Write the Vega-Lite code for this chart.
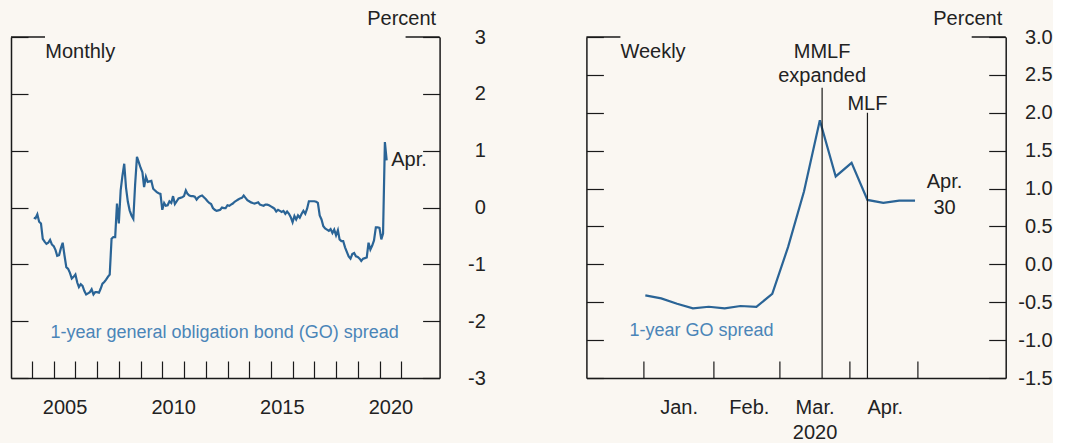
{
  "$schema": "https://vega.github.io/schema/vega-lite/v6.json",
  "background": "#faf7f2",
  "padding": {"left": 10, "top": 8, "right": 0, "bottom": 0},
  "spacing": 146.4,
  "bounds": "flush",
  "config": {
    "view": {"stroke": null},
    "font": "Liberation Sans",
    "axis": {"grid": false, "labelFont": "Liberation Sans", "labelFontSize": 20, "labelColor": "#222222", "domainColor": "#1a1a1a", "tickColor": "#1a1a1a", "domainWidth": 1.5, "tickWidth": 1.2, "titleFont": "Liberation Sans", "titleFontSize": 20, "titleFontWeight": "normal", "titleColor": "#222222", "labelOverlap": false, "labelFlush": false, "labelBound": false}
  },
  "datasets": {
    "monthly": [
      {"d":"2004-01-31","v":-0.18},{"d":"2004-02-29","v":-0.19},{"d":"2004-03-31","v":-0.12},{"d":"2004-04-30","v":-0.25},{"d":"2004-05-31","v":-0.28},{"d":"2004-06-30","v":-0.55},{"d":"2004-07-31","v":-0.60},{"d":"2004-08-31","v":-0.64},{"d":"2004-09-30","v":-0.62},{"d":"2004-10-31","v":-0.57},{"d":"2004-11-30","v":-0.65},{"d":"2004-12-31","v":-0.68},
      {"d":"2005-01-31","v":-0.75},{"d":"2005-02-28","v":-0.85},{"d":"2005-03-31","v":-0.84},{"d":"2005-04-30","v":-0.72},{"d":"2005-05-31","v":-0.62},{"d":"2005-06-30","v":-0.84},{"d":"2005-07-31","v":-1.05},{"d":"2005-08-31","v":-1.08},{"d":"2005-09-30","v":-1.15},{"d":"2005-10-31","v":-1.25},{"d":"2005-11-30","v":-1.22},{"d":"2005-12-31","v":-1.18},
      {"d":"2006-01-31","v":-1.32},{"d":"2006-02-28","v":-1.40},{"d":"2006-03-31","v":-1.35},{"d":"2006-04-30","v":-1.38},{"d":"2006-05-31","v":-1.47},{"d":"2006-06-30","v":-1.53},{"d":"2006-07-31","v":-1.51},{"d":"2006-08-31","v":-1.49},{"d":"2006-09-30","v":-1.44},{"d":"2006-10-31","v":-1.53},{"d":"2006-11-30","v":-1.49},{"d":"2006-12-31","v":-1.49},
      {"d":"2007-01-31","v":-1.50},{"d":"2007-02-28","v":-1.43},{"d":"2007-03-31","v":-1.34},{"d":"2007-04-30","v":-1.31},{"d":"2007-05-31","v":-1.27},{"d":"2007-06-30","v":-1.22},{"d":"2007-07-31","v":-1.18},{"d":"2007-08-31","v":-0.55},{"d":"2007-09-30","v":-0.52},{"d":"2007-10-31","v":-0.52},{"d":"2007-11-30","v":0.07},{"d":"2007-12-31","v":-0.28},
      {"d":"2008-01-31","v":0.30},{"d":"2008-02-29","v":0.55},{"d":"2008-03-31","v":0.77},{"d":"2008-04-30","v":0.35},{"d":"2008-05-31","v":0.10},{"d":"2008-06-30","v":-0.05},{"d":"2008-07-31","v":-0.14},{"d":"2008-08-31","v":-0.20},{"d":"2008-09-30","v":0.40},{"d":"2008-10-31","v":0.89},{"d":"2008-11-30","v":0.80},{"d":"2008-12-31","v":0.70},
      {"d":"2009-01-31","v":0.62},{"d":"2009-02-28","v":0.36},{"d":"2009-03-31","v":0.54},{"d":"2009-04-30","v":0.45},{"d":"2009-05-31","v":0.46},{"d":"2009-06-30","v":0.47},{"d":"2009-07-31","v":0.33},{"d":"2009-08-31","v":0.30},{"d":"2009-09-30","v":0.27},{"d":"2009-10-31","v":0.25},{"d":"2009-11-30","v":0.24},{"d":"2009-12-31","v":-0.04},
      {"d":"2010-01-31","v":0.08},{"d":"2010-02-28","v":0.03},{"d":"2010-03-31","v":0.04},{"d":"2010-04-30","v":0.11},{"d":"2010-05-31","v":0.08},{"d":"2010-06-30","v":0.20},{"d":"2010-07-31","v":0.06},{"d":"2010-08-31","v":0.11},{"d":"2010-09-30","v":0.16},{"d":"2010-10-31","v":0.17},{"d":"2010-11-30","v":0.18},{"d":"2010-12-31","v":0.20},
      {"d":"2011-01-31","v":0.30},{"d":"2011-02-28","v":0.24},{"d":"2011-03-31","v":0.21},{"d":"2011-04-30","v":0.20},{"d":"2011-05-31","v":0.20},{"d":"2011-06-30","v":0.19},{"d":"2011-07-31","v":0.14},{"d":"2011-08-31","v":0.18},{"d":"2011-09-30","v":0.20},{"d":"2011-10-31","v":0.21},{"d":"2011-11-30","v":0.18},{"d":"2011-12-31","v":0.15},
      {"d":"2012-01-31","v":0.11},{"d":"2012-02-29","v":0.08},{"d":"2012-03-31","v":0.06},{"d":"2012-04-30","v":-0.01},{"d":"2012-05-31","v":-0.04},{"d":"2012-06-30","v":-0.06},{"d":"2012-07-31","v":-0.05},{"d":"2012-08-31","v":-0.04},{"d":"2012-09-30","v":0.00},{"d":"2012-10-31","v":-0.01},{"d":"2012-11-30","v":-0.01},{"d":"2012-12-31","v":0.04},
      {"d":"2013-01-31","v":0.03},{"d":"2013-02-28","v":0.05},{"d":"2013-03-31","v":0.07},{"d":"2013-04-30","v":0.10},{"d":"2013-05-31","v":0.12},{"d":"2013-06-30","v":0.14},{"d":"2013-07-31","v":0.16},{"d":"2013-08-31","v":0.17},{"d":"2013-09-30","v":0.21},{"d":"2013-10-31","v":0.17},{"d":"2013-11-30","v":0.13},{"d":"2013-12-31","v":0.11},
      {"d":"2014-01-31","v":0.09},{"d":"2014-02-28","v":0.08},{"d":"2014-03-31","v":0.07},{"d":"2014-04-30","v":0.08},{"d":"2014-05-31","v":0.09},{"d":"2014-06-30","v":0.05},{"d":"2014-07-31","v":0.04},{"d":"2014-08-31","v":0.03},{"d":"2014-09-30","v":0.05},{"d":"2014-10-31","v":0.05},{"d":"2014-11-30","v":0.04},{"d":"2014-12-31","v":0.02},
      {"d":"2015-01-31","v":0.00},{"d":"2015-02-28","v":-0.02},{"d":"2015-03-31","v":-0.07},{"d":"2015-04-30","v":-0.04},{"d":"2015-05-31","v":-0.06},{"d":"2015-06-30","v":-0.08},{"d":"2015-07-31","v":-0.06},{"d":"2015-08-31","v":-0.11},{"d":"2015-09-30","v":-0.07},{"d":"2015-10-31","v":-0.11},{"d":"2015-11-30","v":-0.17},{"d":"2015-12-31","v":-0.26},
      {"d":"2016-01-31","v":-0.15},{"d":"2016-02-29","v":-0.21},{"d":"2016-03-31","v":-0.14},{"d":"2016-04-30","v":-0.18},{"d":"2016-05-31","v":-0.11},{"d":"2016-06-30","v":-0.06},{"d":"2016-07-31","v":-0.11},{"d":"2016-08-31","v":-0.02},{"d":"2016-09-30","v":0.11},{"d":"2016-10-31","v":0.11},{"d":"2016-11-30","v":0.11},{"d":"2016-12-31","v":0.11},
      {"d":"2017-01-31","v":0.10},{"d":"2017-02-28","v":0.08},{"d":"2017-03-31","v":-0.14},{"d":"2017-04-30","v":-0.21},{"d":"2017-05-31","v":-0.33},{"d":"2017-06-30","v":-0.37},{"d":"2017-07-31","v":-0.39},{"d":"2017-08-31","v":-0.41},{"d":"2017-09-30","v":-0.38},{"d":"2017-10-31","v":-0.45},{"d":"2017-11-30","v":-0.39},{"d":"2017-12-31","v":-0.49},
      {"d":"2018-01-31","v":-0.40},{"d":"2018-02-28","v":-0.56},{"d":"2018-03-31","v":-0.59},{"d":"2018-04-30","v":-0.59},{"d":"2018-05-31","v":-0.70},{"d":"2018-06-30","v":-0.78},{"d":"2018-07-31","v":-0.86},{"d":"2018-08-31","v":-0.90},{"d":"2018-09-30","v":-0.82},{"d":"2018-10-31","v":-0.80},{"d":"2018-11-30","v":-0.86},{"d":"2018-12-31","v":-0.87},
      {"d":"2019-01-31","v":-0.90},{"d":"2019-02-28","v":-0.94},{"d":"2019-03-31","v":-0.90},{"d":"2019-04-30","v":-0.89},{"d":"2019-05-31","v":-0.88},{"d":"2019-06-30","v":-0.62},{"d":"2019-07-31","v":-0.74},{"d":"2019-08-31","v":-0.67},{"d":"2019-09-30","v":-0.58},{"d":"2019-10-31","v":-0.35},{"d":"2019-11-30","v":-0.35},{"d":"2019-12-31","v":-0.36},
      {"d":"2020-01-31","v":-0.56},{"d":"2020-02-29","v":-0.46},{"d":"2020-03-31","v":1.15},{"d":"2020-04-30","v":0.83}
    ],
    "weekly": [
      {"d":"2020-01-02","v":-0.41},{"d":"2020-01-09","v":-0.45},{"d":"2020-01-16","v":-0.52},{"d":"2020-01-23","v":-0.58},{"d":"2020-01-30","v":-0.56},
      {"d":"2020-02-06","v":-0.58},{"d":"2020-02-13","v":-0.55},{"d":"2020-02-20","v":-0.56},{"d":"2020-02-27","v":-0.39},
      {"d":"2020-03-05","v":0.23},{"d":"2020-03-12","v":0.96},{"d":"2020-03-19","v":1.90},{"d":"2020-03-26","v":1.16},
      {"d":"2020-04-02","v":1.34},{"d":"2020-04-09","v":0.85},{"d":"2020-04-16","v":0.81},{"d":"2020-04-23","v":0.84},{"d":"2020-04-30","v":0.84}
    ]
  },
  "hconcat": [
    {
      "width": 428.6,
      "height": 341,
      "resolve": {"axis": {"x": "independent", "y": "independent"}},
      "layer": [
        {
          "data": {"name": "monthly"},
          "mark": {"type": "line", "color": "#2a6496", "strokeWidth": 2.2},
          "encoding": {
            "x": {"field": "d", "type": "temporal", "title": null,
              "scale": {"type": "utc", "domain": [{"year": 2003, "month": 1, "date": 13, "utc": true}, {"year": 2022, "month": 10, "date": 7, "utc": true}]},
              "axis": {"orient": "bottom", "domain": true, "ticks": true, "tickSize": -17, "labels": false,
                "values": [
                  {"year": 2004, "month": 1, "date": 1, "utc": true},{"year": 2005, "month": 1, "date": 1, "utc": true},{"year": 2006, "month": 1, "date": 1, "utc": true},{"year": 2007, "month": 1, "date": 1, "utc": true},{"year": 2008, "month": 1, "date": 1, "utc": true},{"year": 2009, "month": 1, "date": 1, "utc": true},{"year": 2010, "month": 1, "date": 1, "utc": true},{"year": 2011, "month": 1, "date": 1, "utc": true},{"year": 2012, "month": 1, "date": 1, "utc": true},{"year": 2013, "month": 1, "date": 1, "utc": true},{"year": 2014, "month": 1, "date": 1, "utc": true},{"year": 2015, "month": 1, "date": 1, "utc": true},{"year": 2016, "month": 1, "date": 1, "utc": true},{"year": 2017, "month": 1, "date": 1, "utc": true},{"year": 2018, "month": 1, "date": 1, "utc": true},{"year": 2019, "month": 1, "date": 1, "utc": true},{"year": 2020, "month": 1, "date": 1, "utc": true},{"year": 2021, "month": 1, "date": 1, "utc": true}
                ]}
            },
            "y": {"field": "v", "type": "quantitative", "title": "Percent",
              "scale": {"domain": [-3, 3], "nice": false, "zero": false},
              "axis": {"orient": "right", "values": [-3, -2, -1, 0, 1, 2, 3], "domain": true, "tickSize": -17, "labelPadding": 62.7, "labelAlign": "right", "labelBaseline": "middle", "labelOverlap": false,
                "labelExpr": "datum.value < 0 ? '-' + abs(datum.value) : '' + datum.value",
                "titleAngle": 0, "titleAlign": "right", "titleBaseline": "middle", "titleX": -4, "titleY": -19}
            }
          }
        },
        {
          "data": {"values": [{"a": "2003-01-13", "b": "2004-08-07"}, {"a": "2021-03-14", "b": "2022-10-07"}]},
          "mark": {"type": "rule", "color": "#1a1a1a", "strokeWidth": 1.5},
          "encoding": {
            "x": {"field": "a", "type": "temporal", "axis": null},
            "x2": {"field": "b"},
            "y": {"datum": 3, "axis": {"orient": "left", "values": [-3, -2, -1, 0, 1, 2, 3], "domain": true, "tickSize": -17, "labels": false, "title": null}}
          }
        },
        {
          "data": {"values": [{"d": "2004-08-11", "v": 2.74, "t": "Monthly"}, {"d": "2020-07-16", "v": 0.83, "t": "Apr."}]},
          "mark": {"type": "text", "align": "left", "baseline": "middle", "fontSize": 20, "font": "Liberation Sans", "color": "#222222"},
          "encoding": {
            "x": {"field": "d", "type": "temporal", "axis": null},
            "y": {"field": "v", "type": "quantitative", "axis": null},
            "text": {"field": "t"}
          }
        },
        {
          "data": {"values": [{"d": "2012-11-13", "v": -2.2, "t": "1-year general obligation bond (GO) spread"}]},
          "mark": {"type": "text", "align": "center", "baseline": "middle", "fontSize": 18, "font": "Liberation Sans", "color": "#4a85b8"},
          "encoding": {
            "x": {"field": "d", "type": "temporal", "title": null,
              "axis": {"orient": "bottom", "domain": false, "ticks": false, "labels": true, "labelPadding": 29.5, "labelBaseline": "middle", "labelOverlap": false, "format": "%Y",
                "values": [{"year": 2005, "month": 7, "date": 2, "utc": true}, {"year": 2010, "month": 7, "date": 2, "utc": true}, {"year": 2015, "month": 7, "date": 2, "utc": true}, {"year": 2020, "month": 7, "date": 2, "utc": true}]}},
            "y": {"field": "v", "type": "quantitative", "axis": null},
            "text": {"field": "t"}
          }
        }
      ]
    },
    {
      "width": 419.3,
      "height": 341,
      "resolve": {"axis": {"y": "independent"}},
      "layer": [
        {
          "data": {"name": "weekly"},
          "mark": {"type": "line", "color": "#2a6496", "strokeWidth": 2.2},
          "encoding": {
            "x": {"field": "d", "type": "temporal", "title": null,
              "scale": {"type": "utc", "domain": [{"year": 2019, "month": 12, "date": 7, "utc": true}, {"year": 2020, "month": 6, "date": 9, "utc": true}]},
              "axis": {"orient": "bottom", "domain": true, "ticks": true, "tickSize": -17, "labelPadding": 36.1, "labelBaseline": "top", "labelOffset": 35.5, "labelLineHeight": 25.7, "labelOverlap": false, "labelFlush": false, "labelBound": false,
                "values": [
                  {"year": 2020, "month": 1, "date": 1, "utc": true},{"year": 2020, "month": 2, "date": 1, "utc": true},{"year": 2020, "month": 3, "date": 1, "utc": true},{"year": 2020, "month": 4, "date": 1, "utc": true},{"year": 2020, "month": 5, "date": 1, "utc": true}
                ],
                "labelExpr": "utcmonth(datum.value) == 0 ? 'Jan.' : utcmonth(datum.value) == 1 ? 'Feb.' : utcmonth(datum.value) == 2 ? ['Mar.', '2020'] : utcmonth(datum.value) == 3 ? 'Apr.' : ''"}
            },
            "y": {"field": "v", "type": "quantitative", "title": "Percent",
              "scale": {"domain": [-1.5, 3], "nice": false, "zero": false},
              "axis": {"orient": "right", "values": [-1.5, -1, -0.5, 0, 0.5, 1, 1.5, 2, 2.5, 3], "domain": true, "tickSize": -17, "labelPadding": 63.5, "labelAlign": "right", "labelBaseline": "middle", "labelOverlap": false,
                "labelExpr": "datum.value < 0 ? '-' + format(-datum.value, '.1f') : format(datum.value, '.1f')",
                "titleAngle": 0, "titleAlign": "right", "titleBaseline": "middle", "titleX": -4, "titleY": -19}
            }
          }
        },
        {
          "data": {"values": [{"a": "2019-12-07", "b": "2019-12-22"}, {"a": "2020-05-25", "b": "2020-06-09"}]},
          "mark": {"type": "rule", "color": "#1a1a1a", "strokeWidth": 1.5},
          "encoding": {
            "x": {"field": "a", "type": "temporal"},
            "x2": {"field": "b"},
            "y": {"datum": 3, "axis": {"orient": "left", "values": [-1.5, -1, -0.5, 0, 0.5, 1, 1.5, 2, 2.5, 3], "domain": true, "tickSize": -17, "labels": false, "title": null}}
          }
        },
        {
          "data": {"values": [{"d": "2020-03-20", "y1": -1.5, "y2": 2.33}, {"d": "2020-04-09", "y1": -1.5, "y2": 2.0}]},
          "mark": {"type": "rule", "color": "#1a1a1a", "strokeWidth": 1.2},
          "encoding": {
            "x": {"field": "d", "type": "temporal"},
            "y": {"field": "y1", "type": "quantitative", "axis": null},
            "y2": {"field": "y2"}
          }
        },
        {
          "data": {"values": [{"d": "2019-12-22", "v": 2.8, "t": "Weekly"}]},
          "mark": {"type": "text", "align": "left", "baseline": "middle", "fontSize": 20, "font": "Liberation Sans", "color": "#222222"},
          "encoding": {
            "x": {"field": "d", "type": "temporal"},
            "y": {"field": "v", "type": "quantitative", "axis": null},
            "text": {"field": "t"}
          }
        },
        {
          "data": {"values": [{"d": "2020-03-20", "v": 2.8, "t": "MMLF"}, {"d": "2020-03-20", "v": 2.48, "t": "expanded"}, {"d": "2020-04-09", "v": 2.11, "t": "MLF"}, {"d": "2020-05-13", "v": 1.08, "t": "Apr."}, {"d": "2020-05-13", "v": 0.75, "t": "30"}]},
          "mark": {"type": "text", "align": "center", "baseline": "middle", "fontSize": 20, "font": "Liberation Sans", "color": "#222222"},
          "encoding": {
            "x": {"field": "d", "type": "temporal"},
            "y": {"field": "v", "type": "quantitative", "axis": null},
            "text": {"field": "t"}
          }
        },
        {
          "data": {"values": [{"d": "2019-12-26", "v": -0.88, "t": "1-year GO spread"}]},
          "mark": {"type": "text", "align": "left", "baseline": "middle", "fontSize": 18, "font": "Liberation Sans", "color": "#4a85b8"},
          "encoding": {
            "x": {"field": "d", "type": "temporal"},
            "y": {"field": "v", "type": "quantitative", "axis": null},
            "text": {"field": "t"}
          }
        }
      ]
    }
  ]
}
